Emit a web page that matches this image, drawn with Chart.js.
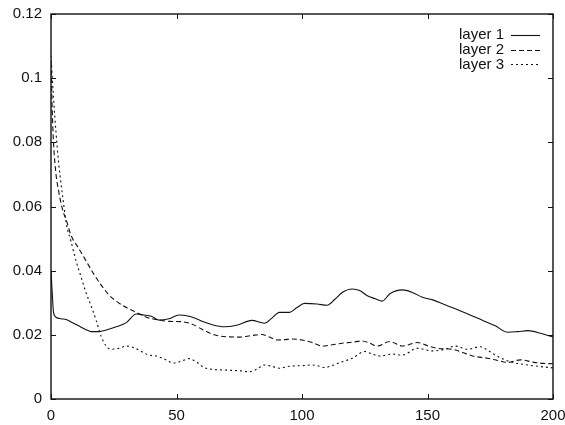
<!DOCTYPE html>
<html><head><meta charset="utf-8">
<script src="https://cdn.jsdelivr.net/npm/chart.js@4/dist/chart.umd.min.js"></script>
<style>html,body{margin:0;padding:0;background:#fff;}canvas{display:block;}</style>
</head><body>
<canvas id="c" width="565" height="425"></canvas>
<script>
const seriesLabels = ['layer 1', 'layer 2', 'layer 3'];
const xTicks = [0, 50, 100, 150, 200];
const yTicks = [0, 0.02, 0.04, 0.06, 0.08, 0.1, 0.12];

const layer1X = [0,0.5,1,2,4,6,8,11,14,16,19,22,26,30,34,37,40,43,47,51,55,58,61,64,69,74,80,85,88,91,95,98,101,106,110,113,116,120,123,126,129,132,135,140,144,148,152,157,162,167,172,177,182,186,190,195,200];
const layer1Y = [0.040,0.033,0.027,0.0255,0.025,0.0248,0.024,0.0228,0.0216,0.021,0.021,0.0215,0.0225,0.0238,0.0265,0.0262,0.0258,0.0246,0.025,0.0262,0.0258,0.025,0.024,0.0232,0.0225,0.0230,0.0245,0.0236,0.0252,0.027,0.027,0.0285,0.0298,0.0296,0.0292,0.031,0.0332,0.0343,0.0338,0.0322,0.0313,0.0305,0.0328,0.034,0.0332,0.0317,0.0309,0.0294,0.0278,0.0262,0.0245,0.0228,0.0208,0.021,0.0213,0.0205,0.0193];

const layer2X = [0,0.5,1,2,3,4,5,6,8,11,14,17,20,23,26,30,34,38,43,47,52,56,60,65,70,75,80,84,87,90,93,96,100,104,108,112,116,120,124,127,130,135,140,146,150,154,160,164,168,174,178,182,187,192,196,200];
const layer2Y = [0.105,0.09,0.08,0.07,0.065,0.061,0.058,0.056,0.051,0.047,0.043,0.039,0.0355,0.0325,0.0305,0.0285,0.027,0.0255,0.0246,0.0242,0.0241,0.0234,0.0218,0.020,0.0194,0.0193,0.0198,0.0201,0.0193,0.0184,0.0185,0.0187,0.0184,0.0176,0.0165,0.0169,0.0174,0.0177,0.0181,0.0174,0.0165,0.0179,0.0165,0.0176,0.0166,0.0158,0.0155,0.0145,0.0134,0.0127,0.012,0.0114,0.0122,0.0115,0.0111,0.011];

const layer3X = [0,1,2,3,4,5,6,8,10,12,14,16,18,20,22,24,27,30,33,36,39,42,45,49,52,55,58,61,65,70,75,79,82,85,88,91,95,100,104,106,109,112,115,120,125,128,131,136,140,146,152,157,161,166,171,174,177,183,190,195,200];
const layer3Y = [0.107,0.094,0.083,0.074,0.067,0.061,0.055,0.049,0.043,0.038,0.033,0.029,0.0245,0.0195,0.0165,0.0155,0.0158,0.0165,0.016,0.0148,0.0137,0.0134,0.0125,0.0112,0.0118,0.0126,0.0115,0.0098,0.0092,0.009,0.0088,0.0085,0.0093,0.0106,0.0102,0.0096,0.0102,0.0104,0.0106,0.0104,0.0098,0.0104,0.0113,0.0127,0.0148,0.014,0.0134,0.014,0.0137,0.0158,0.015,0.0155,0.0165,0.0155,0.0163,0.0152,0.0137,0.0116,0.0106,0.0101,0.0097];

const FONT = '"Liberation Sans", Arial, Helvetica, sans-serif';
const INK = '#111';

function pts(xs, ys) { return xs.map((x, i) => ({ x: x, y: ys[i] })); }

const dashes = [[], [5, 3], [2, 3]];
const datasets = [[layer1X, layer1Y], [layer2X, layer2Y], [layer3X, layer3Y]].map((s, i) => ({
  label: seriesLabels[i],
  data: pts(s[0], s[1]),
  borderColor: INK,
  borderWidth: 1.1,
  borderDash: dashes[i],
  pointRadius: 0,
  fill: false,
  cubicInterpolationMode: 'monotone'
}));

const framePlugin = {
  id: 'frame',
  afterDatasetsDraw(chart) {
    const { ctx, chartArea: a, scales } = chart;
    const xs = scales.x, ys = scales.y;
    ctx.save();
    ctx.strokeStyle = INK;
    ctx.lineWidth = 1.4;
    ctx.setLineDash([]);
    ctx.strokeRect(a.left, a.top, a.right - a.left, a.bottom - a.top);
    ctx.lineWidth = 1;
    const tl = 5;
    xTicks.forEach(v => {
      const px = Math.round(xs.getPixelForValue(v)) + 0.5;
      ctx.beginPath();
      ctx.moveTo(px, a.bottom); ctx.lineTo(px, a.bottom - tl);
      ctx.moveTo(px, a.top); ctx.lineTo(px, a.top + tl);
      ctx.stroke();
    });
    yTicks.forEach(v => {
      const py = Math.round(ys.getPixelForValue(v)) + 0.5;
      ctx.beginPath();
      ctx.moveTo(a.left, py); ctx.lineTo(a.left + tl, py);
      ctx.moveTo(a.right, py); ctx.lineTo(a.right - tl, py);
      ctx.stroke();
    });
    // legend
    ctx.font = '15px ' + FONT;
    ctx.fillStyle = INK;
    ctx.textAlign = 'right';
    ctx.textBaseline = 'middle';
    chart.data.datasets.forEach((d, i) => {
      const y = 35 + i * 14.7;
      ctx.fillText(d.label, 504, y);
      ctx.beginPath();
      ctx.setLineDash(d.borderDash || []);
      ctx.lineWidth = d.borderWidth;
      ctx.moveTo(511, Math.round(y) + 0.5);
      ctx.lineTo(540, Math.round(y) + 0.5);
      ctx.stroke();
    });
    ctx.restore();
  }
};

new Chart(document.getElementById('c'), {
  type: 'line',
  data: { datasets: datasets },
  options: {
    responsive: false,
    animation: false,
    layout: { padding: { left: 0, right: 12, top: 14, bottom: 0 } },
    plugins: { legend: { display: false }, tooltip: { enabled: false } },
    scales: {
      x: {
        type: 'linear', min: 0, max: 200,
        grid: { display: false, drawTicks: false },
        border: { display: false },
        afterBuildTicks: s => { s.ticks = xTicks.map(v => ({ value: v })); },
        afterFit: s => { s.height = 26; s.paddingLeft = 0; s.paddingRight = 0; },
        ticks: { autoSkip: false, maxRotation: 0, padding: 8, color: INK, font: { family: FONT, size: 15 } }
      },
      y: {
        type: 'linear', min: 0, max: 0.12,
        grid: { display: false, drawTicks: false },
        border: { display: false },
        afterBuildTicks: s => { s.ticks = yTicks.map(v => ({ value: v })); },
        afterFit: s => { s.width = 51; s.paddingTop = 0; s.paddingBottom = 0; },
        ticks: {
          padding: 9, color: INK, font: { family: FONT, size: 15 },
          callback: v => String(Number(v.toFixed(2)))
        }
      }
    }
  },
  plugins: [framePlugin]
});
</script>
</body></html>
